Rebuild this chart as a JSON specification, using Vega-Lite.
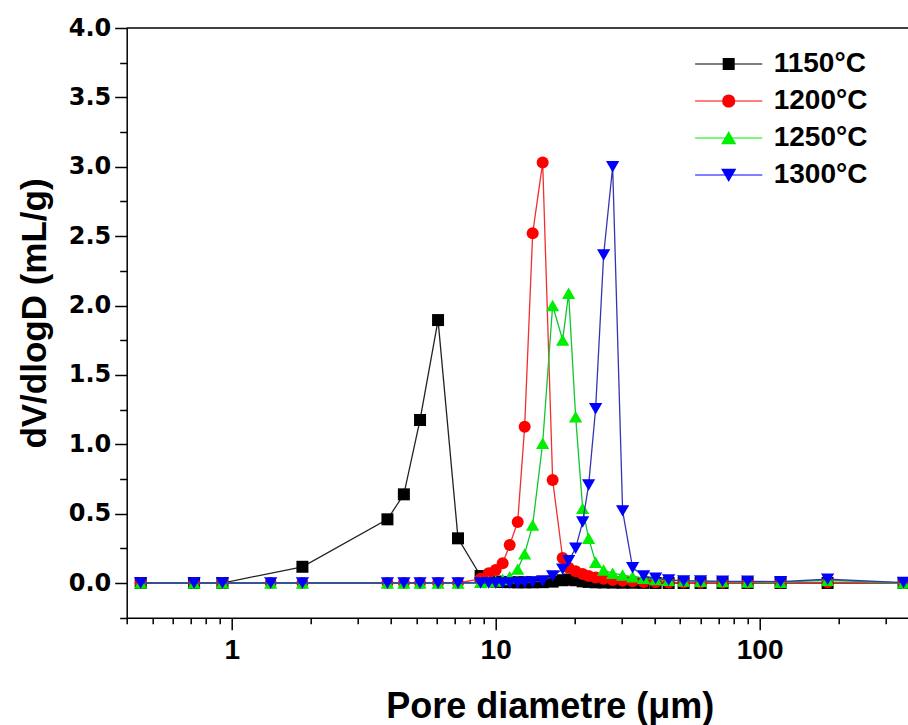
{
  "$schema": "https://vega.github.io/schema/vega-lite/v6.json",
  "autosize": {"type": "none"},
  "width": 781.3,
  "height": 589.7,
  "padding": {"left": 126.7, "top": 28, "right": 0, "bottom": 107.3},
  "background": "white",
  "config": {"view": {"stroke": null}},
  "datasets": {
    "pores": [
      {"s": "1150°C", "d": 0.452, "v": 0}, {"s": "1150°C", "d": 0.72, "v": 0}, {"s": "1150°C", "d": 0.922, "v": 0},
      {"s": "1150°C", "d": 1.853, "v": 0.117}, {"s": "1150°C", "d": 3.89, "v": 0.459}, {"s": "1150°C", "d": 4.49, "v": 0.639},
      {"s": "1150°C", "d": 5.17, "v": 1.175}, {"s": "1150°C", "d": 6.05, "v": 1.895}, {"s": "1150°C", "d": 7.2, "v": 0.322},
      {"s": "1150°C", "d": 8.77, "v": 0.05}, {"s": "1150°C", "d": 9.41, "v": 0.02}, {"s": "1150°C", "d": 10.0, "v": 0.01},
      {"s": "1150°C", "d": 10.63, "v": 0.008}, {"s": "1150°C", "d": 11.3, "v": 0.006}, {"s": "1150°C", "d": 12.12, "v": 0.005},
      {"s": "1150°C", "d": 12.88, "v": 0.005}, {"s": "1150°C", "d": 13.81, "v": 0.005}, {"s": "1150°C", "d": 15.07, "v": 0.006},
      {"s": "1150°C", "d": 16.44, "v": 0.01}, {"s": "1150°C", "d": 17.94, "v": 0.02}, {"s": "1150°C", "d": 18.9, "v": 0.025},
      {"s": "1150°C", "d": 20.09, "v": 0.02}, {"s": "1150°C", "d": 21.36, "v": 0.012}, {"s": "1150°C", "d": 22.5, "v": 0.008},
      {"s": "1150°C", "d": 23.92, "v": 0.005}, {"s": "1150°C", "d": 25.65, "v": 0.004}, {"s": "1150°C", "d": 27.75, "v": 0.003},
      {"s": "1150°C", "d": 30.27, "v": 0.002}, {"s": "1150°C", "d": 33.03, "v": 0.002}, {"s": "1150°C", "d": 36.36, "v": 0.001},
      {"s": "1150°C", "d": 40.37, "v": 0}, {"s": "1150°C", "d": 45.22, "v": 0}, {"s": "1150°C", "d": 51.55, "v": 0},
      {"s": "1150°C", "d": 59.77, "v": 0}, {"s": "1150°C", "d": 72.4, "v": 0}, {"s": "1150°C", "d": 90.07, "v": 0},
      {"s": "1150°C", "d": 120.1, "v": 0}, {"s": "1150°C", "d": 181.0, "v": 0}, {"s": "1150°C", "d": 351.2, "v": 0},

      {"s": "1200°C", "d": 0.452, "v": 0}, {"s": "1200°C", "d": 0.72, "v": 0}, {"s": "1200°C", "d": 0.922, "v": 0},
      {"s": "1200°C", "d": 1.405, "v": 0}, {"s": "1200°C", "d": 1.853, "v": 0}, {"s": "1200°C", "d": 3.89, "v": 0},
      {"s": "1200°C", "d": 4.49, "v": 0}, {"s": "1200°C", "d": 5.17, "v": 0}, {"s": "1200°C", "d": 6.05, "v": 0},
      {"s": "1200°C", "d": 7.2, "v": 0}, {"s": "1200°C", "d": 8.77, "v": 0.03}, {"s": "1200°C", "d": 9.41, "v": 0.07},
      {"s": "1200°C", "d": 10.0, "v": 0.094}, {"s": "1200°C", "d": 10.63, "v": 0.142}, {"s": "1200°C", "d": 11.3, "v": 0.274},
      {"s": "1200°C", "d": 12.12, "v": 0.44}, {"s": "1200°C", "d": 12.88, "v": 1.127}, {"s": "1200°C", "d": 13.81, "v": 2.52},
      {"s": "1200°C", "d": 15.07, "v": 3.03}, {"s": "1200°C", "d": 16.44, "v": 0.742}, {"s": "1200°C", "d": 17.94, "v": 0.18},
      {"s": "1200°C", "d": 18.9, "v": 0.11}, {"s": "1200°C", "d": 20.09, "v": 0.085}, {"s": "1200°C", "d": 21.36, "v": 0.065},
      {"s": "1200°C", "d": 22.5, "v": 0.05}, {"s": "1200°C", "d": 23.92, "v": 0.04}, {"s": "1200°C", "d": 25.65, "v": 0.03},
      {"s": "1200°C", "d": 27.75, "v": 0.022}, {"s": "1200°C", "d": 30.27, "v": 0.016}, {"s": "1200°C", "d": 33.03, "v": 0.012},
      {"s": "1200°C", "d": 36.36, "v": 0.008}, {"s": "1200°C", "d": 40.37, "v": 0.006}, {"s": "1200°C", "d": 45.22, "v": 0.004},
      {"s": "1200°C", "d": 51.55, "v": 0.003}, {"s": "1200°C", "d": 59.77, "v": 0.002}, {"s": "1200°C", "d": 72.4, "v": 0.002},
      {"s": "1200°C", "d": 90.07, "v": 0.001}, {"s": "1200°C", "d": 120.1, "v": 0.001}, {"s": "1200°C", "d": 181.0, "v": 0.005},
      {"s": "1200°C", "d": 351.2, "v": 0},

      {"s": "1250°C", "d": 0.452, "v": 0}, {"s": "1250°C", "d": 0.72, "v": 0}, {"s": "1250°C", "d": 0.922, "v": 0},
      {"s": "1250°C", "d": 1.405, "v": 0}, {"s": "1250°C", "d": 1.853, "v": 0}, {"s": "1250°C", "d": 3.89, "v": 0},
      {"s": "1250°C", "d": 4.49, "v": 0}, {"s": "1250°C", "d": 5.17, "v": 0}, {"s": "1250°C", "d": 6.05, "v": 0},
      {"s": "1250°C", "d": 7.2, "v": 0}, {"s": "1250°C", "d": 8.77, "v": 0.005}, {"s": "1250°C", "d": 9.41, "v": 0.01},
      {"s": "1250°C", "d": 10.0, "v": 0.015}, {"s": "1250°C", "d": 10.63, "v": 0.025}, {"s": "1250°C", "d": 11.3, "v": 0.045},
      {"s": "1250°C", "d": 12.12, "v": 0.1}, {"s": "1250°C", "d": 12.88, "v": 0.21}, {"s": "1250°C", "d": 13.81, "v": 0.418},
      {"s": "1250°C", "d": 15.07, "v": 1.007}, {"s": "1250°C", "d": 16.44, "v": 2.0}, {"s": "1250°C", "d": 17.94, "v": 1.751},
      {"s": "1250°C", "d": 18.9, "v": 2.088}, {"s": "1250°C", "d": 20.09, "v": 1.199}, {"s": "1250°C", "d": 21.36, "v": 0.538},
      {"s": "1250°C", "d": 22.5, "v": 0.322}, {"s": "1250°C", "d": 23.92, "v": 0.15}, {"s": "1250°C", "d": 25.65, "v": 0.094},
      {"s": "1250°C", "d": 27.75, "v": 0.07}, {"s": "1250°C", "d": 30.27, "v": 0.058}, {"s": "1250°C", "d": 33.03, "v": 0.045},
      {"s": "1250°C", "d": 36.36, "v": 0.034}, {"s": "1250°C", "d": 40.37, "v": 0.025}, {"s": "1250°C", "d": 45.22, "v": 0.02},
      {"s": "1250°C", "d": 51.55, "v": 0.015}, {"s": "1250°C", "d": 59.77, "v": 0.012}, {"s": "1250°C", "d": 72.4, "v": 0.01},
      {"s": "1250°C", "d": 90.07, "v": 0.008}, {"s": "1250°C", "d": 120.1, "v": 0.006}, {"s": "1250°C", "d": 181.0, "v": 0.02},
      {"s": "1250°C", "d": 351.2, "v": 0},

      {"s": "1300°C", "d": 0.452, "v": 0}, {"s": "1300°C", "d": 0.72, "v": 0}, {"s": "1300°C", "d": 0.922, "v": 0},
      {"s": "1300°C", "d": 1.405, "v": 0}, {"s": "1300°C", "d": 1.853, "v": 0}, {"s": "1300°C", "d": 3.89, "v": 0},
      {"s": "1300°C", "d": 4.49, "v": 0}, {"s": "1300°C", "d": 5.17, "v": 0}, {"s": "1300°C", "d": 6.05, "v": 0},
      {"s": "1300°C", "d": 7.2, "v": 0}, {"s": "1300°C", "d": 8.77, "v": 0}, {"s": "1300°C", "d": 9.41, "v": 0},
      {"s": "1300°C", "d": 10.0, "v": 0}, {"s": "1300°C", "d": 10.63, "v": 0}, {"s": "1300°C", "d": 11.3, "v": 0},
      {"s": "1300°C", "d": 12.12, "v": 0}, {"s": "1300°C", "d": 12.88, "v": 0.003}, {"s": "1300°C", "d": 13.81, "v": 0.005},
      {"s": "1300°C", "d": 15.07, "v": 0.015}, {"s": "1300°C", "d": 16.44, "v": 0.05}, {"s": "1300°C", "d": 17.94, "v": 0.1},
      {"s": "1300°C", "d": 18.9, "v": 0.16}, {"s": "1300°C", "d": 20.09, "v": 0.25}, {"s": "1300°C", "d": 21.36, "v": 0.44},
      {"s": "1300°C", "d": 22.5, "v": 0.706}, {"s": "1300°C", "d": 23.92, "v": 1.256}, {"s": "1300°C", "d": 25.65, "v": 2.364},
      {"s": "1300°C", "d": 27.75, "v": 3.0}, {"s": "1300°C", "d": 30.27, "v": 0.52}, {"s": "1300°C", "d": 33.03, "v": 0.11},
      {"s": "1300°C", "d": 36.36, "v": 0.05}, {"s": "1300°C", "d": 40.37, "v": 0.035}, {"s": "1300°C", "d": 45.22, "v": 0.022},
      {"s": "1300°C", "d": 51.55, "v": 0.015}, {"s": "1300°C", "d": 59.77, "v": 0.015}, {"s": "1300°C", "d": 72.4, "v": 0.012},
      {"s": "1300°C", "d": 90.07, "v": 0.012}, {"s": "1300°C", "d": 120.1, "v": 0.01}, {"s": "1300°C", "d": 181.0, "v": 0.027},
      {"s": "1300°C", "d": 351.2, "v": 0.003}
    ]
  },
  "data": {"name": "pores"},
  "resolve": {"axis": {"x": "independent", "y": "independent"}},
  "layer": [
    {
      "data": {"values": [{"top": 4}]},
      "mark": {"type": "rule", "color": "black", "strokeWidth": 1.5},
      "encoding": {"y": {"field": "top", "type": "quantitative", "axis": null, "scale": {"domain": [-0.25, 4]}}}
    },
    {
      "transform": [{"filter": "datum.s == '1150°C'"}],
      "mark": {"type": "line", "color": "#222222", "strokeWidth": 1.3},
      "encoding": {
        "x": {"field": "d", "type": "quantitative", "scale": {"type": "log", "domain": [0.4, 365], "nice": false},
          "axis": {"orient": "bottom", "values": [1, 10, 100], "format": "d", "tickSize": 12, "tickWidth": 1.5, "domainWidth": 1.5,
            "domainColor": "black", "tickColor": "black", "labelColor": "black", "labelFont": "Liberation Sans", "labelFontWeight": "bold",
            "labelFontSize": 28, "labelPadding": 7, "labelFlush": false, "labelOverlap": false, "grid": false,
            "title": "Pore diametre (μm)", "titleFont": "Liberation Sans", "titleFontWeight": "bold", "titleFontSize": 36,
            "titleColor": "black", "titlePadding": 25, "titleX": 423, "titleAnchor": "middle"}},
        "y": {"field": "v", "type": "quantitative", "scale": {"domain": [-0.25, 4], "nice": false, "zero": false},
          "axis": {"orient": "left", "values": [0, 0.5, 1, 1.5, 2, 2.5, 3, 3.5, 4], "format": ".1f", "tickSize": 12, "tickWidth": 1.5,
            "domainWidth": 1.5, "domainColor": "black", "tickColor": "black", "labelColor": "black", "labelFont": "DejaVu Sans",
            "labelFontWeight": "bold", "labelFontSize": 24, "labelPadding": 4, "labelFlush": false, "labelOverlap": false, "grid": false,
            "title": "dV/dlogD (mL/g)", "titleFont": "Liberation Sans", "titleFontWeight": "bold", "titleFontSize": 35,
            "titleColor": "black", "titlePadding": 16, "titleY": 285, "titleAnchor": "middle"}}
      }
    },
    {
      "transform": [{"filter": "datum.s == '1150°C'"}],
      "mark": {"type": "point", "shape": "square", "filled": true, "color": "#000000", "size": 144, "opacity": 1},
      "encoding": {
        "x": {"field": "d", "type": "quantitative",
          "axis": {"orient": "bottom", "values": [0.4, 0.5, 0.6, 0.7, 0.8, 0.9, 2, 3, 4, 5, 6, 7, 8, 9, 20, 30, 40, 50, 60, 70, 80, 90, 200, 300],
            "tickSize": 6, "tickWidth": 1.5, "tickColor": "black", "labels": false, "domain": false, "grid": false, "title": null}},
        "y": {"field": "v", "type": "quantitative",
          "axis": {"orient": "left", "values": [-0.25, 0.25, 0.75, 1.25, 1.75, 2.25, 2.75, 3.25, 3.75],
            "tickSize": 7, "tickWidth": 1.5, "tickColor": "black", "labels": false, "domain": false, "grid": false, "title": null}}
      }
    },
    {
      "transform": [{"filter": "datum.s == '1200°C'"}],
      "mark": {"type": "line", "color": "#f03030", "strokeWidth": 1.3},
      "encoding": {"x": {"field": "d", "type": "quantitative", "axis": null}, "y": {"field": "v", "type": "quantitative", "axis": null}}
    },
    {
      "transform": [{"filter": "datum.s == '1200°C'"}],
      "mark": {"type": "point", "shape": "circle", "filled": true, "color": "#ff0000", "size": 144, "opacity": 1},
      "encoding": {"x": {"field": "d", "type": "quantitative", "axis": null}, "y": {"field": "v", "type": "quantitative", "axis": null}}
    },
    {
      "transform": [{"filter": "datum.s == '1250°C'"}],
      "mark": {"type": "line", "color": "#10c830", "strokeWidth": 1.3},
      "encoding": {"x": {"field": "d", "type": "quantitative", "axis": null}, "y": {"field": "v", "type": "quantitative", "axis": null}}
    },
    {
      "transform": [{"filter": "datum.s == '1250°C'"}],
      "mark": {"type": "point", "shape": "triangle-up", "filled": true, "color": "#00ee00", "size": 175, "opacity": 1},
      "encoding": {"x": {"field": "d", "type": "quantitative", "axis": null}, "y": {"field": "v", "type": "quantitative", "axis": null}}
    },
    {
      "transform": [{"filter": "datum.s == '1300°C'"}],
      "mark": {"type": "line", "color": "#3535b0", "strokeWidth": 1.3},
      "encoding": {"x": {"field": "d", "type": "quantitative", "axis": null}, "y": {"field": "v", "type": "quantitative", "axis": null}}
    },
    {
      "transform": [{"filter": "datum.s == '1300°C'"}],
      "mark": {"type": "point", "shape": "triangle-down", "filled": true, "color": "#0000ff", "size": 175, "opacity": 1},
      "encoding": {"x": {"field": "d", "type": "quantitative", "axis": null}, "y": {"field": "v", "type": "quantitative", "axis": null}}
    },
    {
      "transform": [{"filter": "false"}],
      "mark": {"type": "point", "filled": false, "opacity": 1, "strokeWidth": 1.2},
      "encoding": {
        "color": {"field": "s", "type": "nominal",
          "scale": {"domain": ["1150°C", "1200°C", "1250°C", "1300°C"], "range": ["#000000", "#ff0000", "#00ee00", "#0000ff"]},
          "legend": {"orient": "none", "legendX": 588, "legendY": 22, "title": null, "padding": 0,
            "labelFont": "Liberation Sans", "labelFontSize": 28, "labelFontWeight": "bold", "labelColor": "black",
            "labelOffset": 31, "labelLimit": 400, "rowPadding": 9, "symbolSize": 144, "symbolStrokeWidth": 1.2}},
        "shape": {"field": "s", "type": "nominal",
          "scale": {"domain": ["1150°C", "1200°C", "1250°C", "1300°C"],
            "range": [
              "M-5.6,0H5.6M-0.9,-0.9H0.9V0.9H-0.9ZM-0.75,-0.75H0.75V0.75H-0.75ZM-0.6,-0.6H0.6V0.6H-0.6ZM-0.45,-0.45H0.45V0.45H-0.45ZM-0.3,-0.3H0.3V0.3H-0.3ZM-0.15,-0.15H0.15V0.15H-0.15Z",
              "M-5.6,0H5.6M1,0A1,1,0,1,1,-1,0A1,1,0,1,1,1,0ZM0.85,0A0.85,0.85,0,1,1,-0.85,0A0.85,0.85,0,1,1,0.85,0ZM0.7,0A0.7,0.7,0,1,1,-0.7,0A0.7,0.7,0,1,1,0.7,0ZM0.55,0A0.55,0.55,0,1,1,-0.55,0A0.55,0.55,0,1,1,0.55,0ZM0.4,0A0.4,0.4,0,1,1,-0.4,0A0.4,0.4,0,1,1,0.4,0ZM0.25,0A0.25,0.25,0,1,1,-0.25,0A0.25,0.25,0,1,1,0.25,0ZM0.1,0A0.1,0.1,0,1,1,-0.1,0A0.1,0.1,0,1,1,0.1,0Z",
              "M-5.6,0H5.6M0,-0.95L1.1,0.95L-1.1,0.95ZM0,-0.697L0.88,0.823L-0.88,0.823ZM0,-0.443L0.66,0.697L-0.66,0.697ZM0,-0.19L0.44,0.57L-0.44,0.57ZM0,0.063L0.22,0.443L-0.22,0.443Z",
              "M-5.6,0H5.6M0,0.95L1.1,-0.95L-1.1,-0.95ZM0,0.697L0.88,-0.823L-0.88,-0.823ZM0,0.443L0.66,-0.697L-0.66,-0.697ZM0,0.19L0.44,-0.57L-0.44,-0.57ZM0,-0.063L0.22,-0.443L-0.22,-0.443Z"
            ]}}
      }
    }
  ]
}
